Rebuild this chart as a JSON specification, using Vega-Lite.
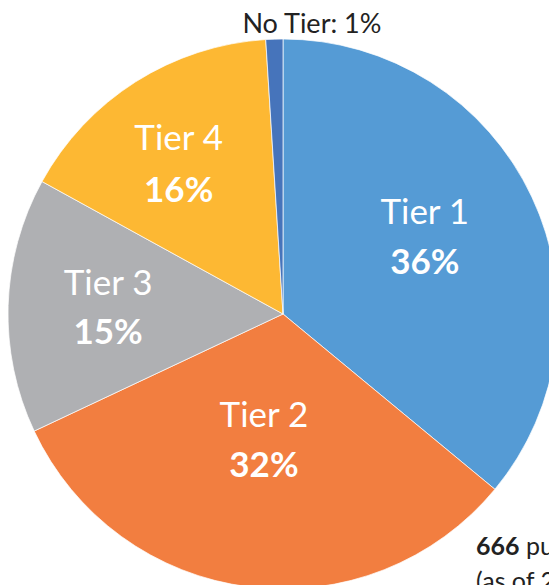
{
  "$schema": "https://vega.github.io/schema/vega-lite/v6.json",
  "width": 550,
  "height": 550,
  "autosize": {"type": "none"},
  "padding": {"left": 8, "top": 39, "right": 0, "bottom": 0},
  "background": "white",
  "config": {"view": {"stroke": null}, "font": "Lato"},
  "datasets": {
    "tiers": [
      {"tier": "Tier 1", "share": 0.36, "idx": 1},
      {"tier": "Tier 2", "share": 0.32, "idx": 2},
      {"tier": "Tier 3", "share": 0.15, "idx": 3},
      {"tier": "Tier 4", "share": 0.16, "idx": 4},
      {"tier": "No Tier", "share": 0.01, "idx": 5}
    ],
    "note": [{"count": "666", "rest": "public water systems", "asof": "(as of 2020)"}]
  },
  "layer": [
    {
      "data": {"name": "tiers"},
      "mark": {"type": "arc", "outerRadius": 275, "stroke": "white", "strokeWidth": 0.7},
      "encoding": {
        "theta": {"field": "share", "type": "quantitative", "stack": true},
        "order": {"field": "idx", "type": "quantitative"},
        "color": {
          "field": "tier",
          "type": "nominal",
          "sort": ["Tier 1", "Tier 2", "Tier 3", "Tier 4", "No Tier"],
          "scale": {
            "domain": ["Tier 1", "Tier 2", "Tier 3", "Tier 4", "No Tier"],
            "range": ["#559BD5", "#F27E40", "#AFB0B3", "#FDB833", "#4674BB"]
          },
          "legend": null
        }
      }
    },
    {
      "data": {"name": "tiers"},
      "mark": {"type": "text", "fontSize": 35, "color": "white", "baseline": "middle", "dy": -33, "dx": -3, "radius": 160},
      "encoding": {
        "theta": {"field": "share", "type": "quantitative", "stack": true},
        "order": {"field": "idx", "type": "quantitative"},
        "text": {"condition": {"test": "datum.tier != 'Tier 1'", "value": ""}, "field": "tier"}
      }
    },
    {
      "data": {"name": "tiers"},
      "mark": {"type": "text", "fontSize": 35, "fontWeight": "bold", "color": "white", "baseline": "middle", "dy": 17, "dx": -3, "radius": 160},
      "encoding": {
        "theta": {"field": "share", "type": "quantitative", "stack": true},
        "order": {"field": "idx", "type": "quantitative"},
        "text": {"condition": {"test": "datum.tier != 'Tier 1'", "value": ""}, "field": "share", "type": "quantitative", "format": ".0%"}
      }
    },
    {
      "data": {"name": "tiers"},
      "mark": {"type": "text", "fontSize": 35, "color": "white", "baseline": "middle", "dy": -25, "dx": -3, "radius": 128},
      "encoding": {
        "theta": {"field": "share", "type": "quantitative", "stack": true},
        "order": {"field": "idx", "type": "quantitative"},
        "text": {"condition": {"test": "datum.tier != 'Tier 2'", "value": ""}, "field": "tier"}
      }
    },
    {
      "data": {"name": "tiers"},
      "mark": {"type": "text", "fontSize": 35, "fontWeight": "bold", "color": "white", "baseline": "middle", "dy": 25, "dx": -3, "radius": 128},
      "encoding": {
        "theta": {"field": "share", "type": "quantitative", "stack": true},
        "order": {"field": "idx", "type": "quantitative"},
        "text": {"condition": {"test": "datum.tier != 'Tier 2'", "value": ""}, "field": "share", "type": "quantitative", "format": ".0%"}
      }
    },
    {
      "data": {"name": "tiers"},
      "mark": {"type": "text", "fontSize": 35, "color": "white", "baseline": "middle", "dy": -25, "radius": 175},
      "encoding": {
        "theta": {"field": "share", "type": "quantitative", "stack": true},
        "order": {"field": "idx", "type": "quantitative"},
        "text": {"condition": {"test": "datum.tier != 'Tier 3'", "value": ""}, "field": "tier"}
      }
    },
    {
      "data": {"name": "tiers"},
      "mark": {"type": "text", "fontSize": 35, "fontWeight": "bold", "color": "white", "baseline": "middle", "dy": 24, "radius": 175},
      "encoding": {
        "theta": {"field": "share", "type": "quantitative", "stack": true},
        "order": {"field": "idx", "type": "quantitative"},
        "text": {"condition": {"test": "datum.tier != 'Tier 3'", "value": ""}, "field": "share", "type": "quantitative", "format": ".0%"}
      }
    },
    {
      "data": {"name": "tiers"},
      "mark": {"type": "text", "fontSize": 35, "color": "white", "baseline": "middle", "dy": -26, "dx": -10, "radius": 176},
      "encoding": {
        "theta": {"field": "share", "type": "quantitative", "stack": true},
        "order": {"field": "idx", "type": "quantitative"},
        "text": {"condition": {"test": "datum.tier != 'Tier 4'", "value": ""}, "field": "tier"}
      }
    },
    {
      "data": {"name": "tiers"},
      "mark": {"type": "text", "fontSize": 35, "fontWeight": "bold", "color": "white", "baseline": "middle", "dy": 26, "dx": -10, "radius": 176},
      "encoding": {
        "theta": {"field": "share", "type": "quantitative", "stack": true},
        "order": {"field": "idx", "type": "quantitative"},
        "text": {"condition": {"test": "datum.tier != 'Tier 4'", "value": ""}, "field": "share", "type": "quantitative", "format": ".0%"}
      }
    },
    {
      "data": {"name": "tiers"},
      "mark": {"type": "text", "fontSize": 27, "color": "#222222", "baseline": "middle", "radius": 289, "dx": 38},
      "encoding": {
        "theta": {"field": "share", "type": "quantitative", "stack": true},
        "order": {"field": "idx", "type": "quantitative"},
        "text": {"condition": {"test": "datum.tier != 'No Tier'", "value": ""}, "value": "No Tier: 1%"}
      }
    },
    {
      "data": {"name": "note"},
      "mark": {"type": "text", "fontSize": 25, "fontWeight": "bold", "color": "#222222", "align": "left", "baseline": "alphabetic", "x": 468, "y": 516},
      "encoding": {"text": {"field": "count"}}
    },
    {
      "data": {"name": "note"},
      "mark": {"type": "text", "fontSize": 25, "color": "#222222", "align": "left", "baseline": "alphabetic", "x": 518, "y": 516},
      "encoding": {"text": {"field": "rest"}}
    },
    {
      "data": {"name": "note"},
      "mark": {"type": "text", "fontSize": 25, "color": "#222222", "align": "left", "baseline": "alphabetic", "x": 468, "y": 551},
      "encoding": {"text": {"field": "asof"}}
    }
  ]
}
